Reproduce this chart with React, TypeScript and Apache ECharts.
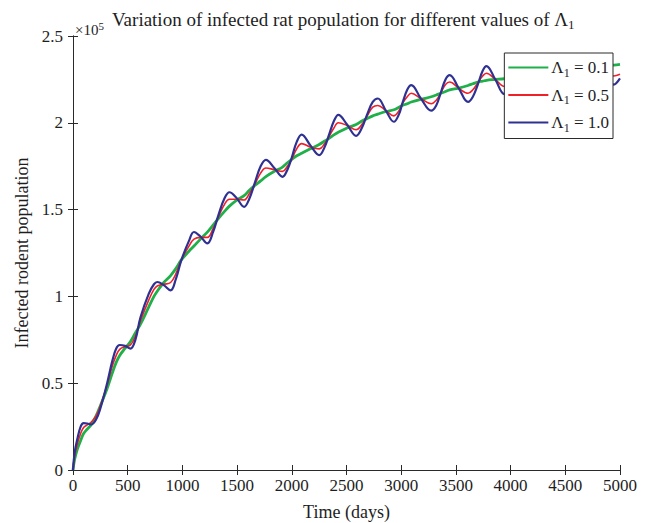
import React, { useEffect, useRef } from "react";
import * as echarts from "echarts";

const times = [
  0, 15, 40, 70, 97, 130, 165, 210, 250, 312, 360, 395, 427, 475, 525, 570, 617, 693, 740, 770,
  830, 892, 940, 990, 1060, 1106, 1165, 1228, 1280, 1330, 1385, 1430, 1497, 1564, 1610, 1665,
  1715, 1763, 1840, 1915, 1960, 2000, 2045, 2090, 2170, 2251, 2300, 2340, 2385, 2425, 2505,
  2588, 2640, 2690, 2740, 2786, 2860, 2933, 2980, 3010, 3055, 3092, 3180, 3275, 3320, 3360,
  3405, 3443, 3525, 3611, 3655, 3700, 3745, 3779, 3860, 3944, 3990, 4030, 4075, 4112, 4195,
  4277, 4320, 4360, 4405, 4445, 4525, 4610, 4650, 4690, 4735, 4778, 4860, 4943, 5000,
];

// Infected rodent population (×10^5)
const blueVals = [
  0, 0.1, 0.18, 0.25, 0.27, 0.268, 0.262, 0.29, 0.355, 0.5, 0.63, 0.7, 0.72, 0.715, 0.699, 0.75,
  0.88, 1.016, 1.07, 1.083, 1.065, 1.035, 1.1, 1.208, 1.32, 1.371, 1.345, 1.305, 1.37, 1.47,
  1.565, 1.6, 1.565, 1.516, 1.56, 1.66, 1.75, 1.787, 1.74, 1.689, 1.73, 1.8, 1.89, 1.932, 1.87,
  1.814, 1.86, 1.93, 2.01, 2.046, 1.99, 1.925, 1.97, 2.05, 2.12, 2.14, 2.07, 2.006, 2.05, 2.11,
  2.19, 2.217, 2.14, 2.07, 2.1, 2.17, 2.25, 2.275, 2.2, 2.12, 2.15, 2.22, 2.3, 2.327, 2.25,
  2.165, 2.19, 2.25, 2.32, 2.345, 2.27, 2.185, 2.21, 2.28, 2.345, 2.36, 2.29, 2.2, 2.225, 2.29,
  2.355, 2.37, 2.3, 2.22, 2.256,
];
const redVals = [
  0, 0.08, 0.15, 0.21, 0.245, 0.26, 0.275, 0.31, 0.37, 0.49, 0.6, 0.66, 0.695, 0.71, 0.72, 0.77,
  0.86, 0.98, 1.04, 1.06, 1.07, 1.08, 1.13, 1.21, 1.29, 1.33, 1.34, 1.34, 1.39, 1.46, 1.53,
  1.56, 1.56, 1.555, 1.59, 1.65, 1.71, 1.74, 1.73, 1.72, 1.75, 1.79, 1.85, 1.88, 1.86, 1.85,
  1.88, 1.92, 1.97, 2.0, 1.985, 1.96, 1.99, 2.04, 2.09, 2.1, 2.07, 2.04, 2.07, 2.11, 2.15, 2.17,
  2.14, 2.11, 2.13, 2.17, 2.22, 2.235, 2.2, 2.17, 2.19, 2.23, 2.27, 2.285, 2.25, 2.21, 2.23,
  2.26, 2.295, 2.31, 2.28, 2.24, 2.255, 2.29, 2.32, 2.335, 2.3, 2.26, 2.27, 2.305, 2.34,
  2.35, 2.315, 2.27, 2.28,
];
const greenVals = [
  0, 0.06, 0.12, 0.17, 0.21, 0.235, 0.26, 0.31, 0.37, 0.47, 0.56, 0.62, 0.66, 0.7, 0.74, 0.79,
  0.84, 0.94, 1.0, 1.03, 1.08, 1.12, 1.16, 1.21, 1.26, 1.29, 1.33, 1.37, 1.41, 1.45, 1.49, 1.52,
  1.555, 1.58, 1.61, 1.64, 1.665, 1.69, 1.72, 1.745, 1.77, 1.79, 1.81, 1.825, 1.85, 1.875,
  1.895, 1.91, 1.93, 1.945, 1.97, 1.99, 2.01, 2.025, 2.04, 2.05, 2.065, 2.075, 2.09, 2.1, 2.11,
  2.12, 2.135, 2.15, 2.16, 2.17, 2.18, 2.19, 2.2, 2.215, 2.225, 2.235, 2.24, 2.245, 2.25,
  2.255, 2.265, 2.27, 2.275, 2.28, 2.285, 2.29, 2.295, 2.3, 2.305, 2.31, 2.31, 2.315, 2.32,
  2.32, 2.325, 2.33, 2.33, 2.332, 2.336,
];

const seriesNames = ["Λ1 = 0.1", "Λ1 = 0.5", "Λ1 = 1.0"];
const seriesColors = ["#1fb04a", "#f0202a", "#2e3192"];
const seriesWidths = [2.8, 1.6, 2.2];
const seriesValues = [greenVals, redVals, blueVals];

const xTicks = { min: 0, max: 5000, interval: 500 };
const yTicks = { min: 0, max: 2.5, interval: 0.5 };

const FONT = "Liberation Serif";

export default function App() {
  const ref = useRef<HTMLDivElement>(null);
  useEffect(() => {
    if (!ref.current) return;
    const chart = echarts.init(ref.current, undefined, { renderer: "svg" });
    const axisLineStyle = { color: "#2a2a2a", width: 1 };
    const labelStyle = { fontFamily: FONT, fontSize: 17, color: "#1e1e1e" };
    const grid = {
      left: 73,
      right: 28,
      top: 36,
      bottom: 53,
      containLabel: false,
      outerBoundsMode: "none",
    };
    chart.setOption({
      animation: false,
      backgroundColor: "#ffffff",
      title: {
        text: "Variation of infected rat population for different values of Λ{sub|1}",
        left: 107,
        top: 2,
        textStyle: {
          fontFamily: FONT,
          fontSize: 19,
          fontWeight: "normal",
          color: "#1e1e1e",
          rich: {
            sub: { fontFamily: FONT, fontSize: 13, color: "#1e1e1e", padding: [11, 0, 0, 0] },
          },
        },
      },
      grid,
      legend: {
        orient: "vertical",
        right: 35,
        top: 53,
        icon: "rect",
        itemWidth: 40,
        itemHeight: 2,
        itemGap: 8,
        padding: [6, 4, 5, 4],
        borderColor: "#2a2a2a",
        borderWidth: 1,
        backgroundColor: "#fff",
        data: seriesNames,
        formatter: (name: string) => {
          const [, val] = name.split(" = ");
          return "Λ{sub|1} = " + val;
        },
        textStyle: {
          fontFamily: FONT,
          fontSize: 17,
          color: "#1e1e1e",
          padding: [0, 0, 0, -2],
          rich: {
            sub: { fontFamily: FONT, fontSize: 12, color: "#1e1e1e", padding: [10, 0, 0, 0] },
          },
        },
      },
      graphic: [
        {
          type: "text",
          left: 75,
          top: 20,
          style: {
            text: "×10{sup|5}",
            fontFamily: FONT,
            fontSize: 15,
            fill: "#1e1e1e",
            rich: {
              sup: { fontFamily: FONT, fontSize: 11, fill: "#1e1e1e", padding: [0, 0, 9, 0] },
            },
          },
        },
      ],
      xAxis: [
        {
          type: "value",
          ...xTicks,
          name: "Time (days)",
          nameLocation: "middle",
          nameGap: 33,
          nameTextStyle: { fontFamily: FONT, fontSize: 18, color: "#1e1e1e" },
          axisLine: { show: true, lineStyle: axisLineStyle },
          axisTick: { show: true, inside: true, length: 5, lineStyle: axisLineStyle },
          axisLabel: { ...labelStyle, margin: 7, formatter: (v: number) => String(v) },
          splitLine: { show: false },
        },
        {
          type: "value",
          position: "top",
          ...xTicks,
          axisLine: { show: true, lineStyle: axisLineStyle },
          axisTick: { show: true, inside: true, length: 5, lineStyle: axisLineStyle },
          axisLabel: { show: false },
          splitLine: { show: false },
        },
      ],
      yAxis: [
        {
          type: "value",
          ...yTicks,
          name: "Infected rodent population",
          nameLocation: "middle",
          nameGap: 42,
          nameTextStyle: { fontFamily: FONT, fontSize: 18, color: "#1e1e1e" },
          axisLine: { show: true, lineStyle: axisLineStyle },
          axisTick: { show: true, inside: true, length: 5, lineStyle: axisLineStyle },
          axisLabel: {
            ...labelStyle,
            margin: 10,
            formatter: (v: number) => String(v),
          },
          splitLine: { show: false },
        },
        {
          type: "value",
          position: "right",
          ...yTicks,
          axisLine: { show: true, lineStyle: axisLineStyle },
          axisTick: { show: true, inside: true, length: 5, lineStyle: axisLineStyle },
          axisLabel: { show: false },
          splitLine: { show: false },
        },
      ],
      series: seriesNames.map((name, i) => ({
        name,
        type: "line",
        xAxisIndex: 0,
        yAxisIndex: 0,
        symbol: "none",
        smooth: 0.4,
        clip: true,
        data: times.map((t, k) => [t, seriesValues[i][k]]),
        lineStyle: { color: seriesColors[i], width: seriesWidths[i] },
        itemStyle: { color: seriesColors[i] },
      })),
    });
    return () => chart.dispose();
  }, []);
  return (
    <div
      ref={ref}
      style={{ position: "fixed", left: 0, top: 0, width: 648, height: 523, background: "#fff" }}
    />
  );
}
